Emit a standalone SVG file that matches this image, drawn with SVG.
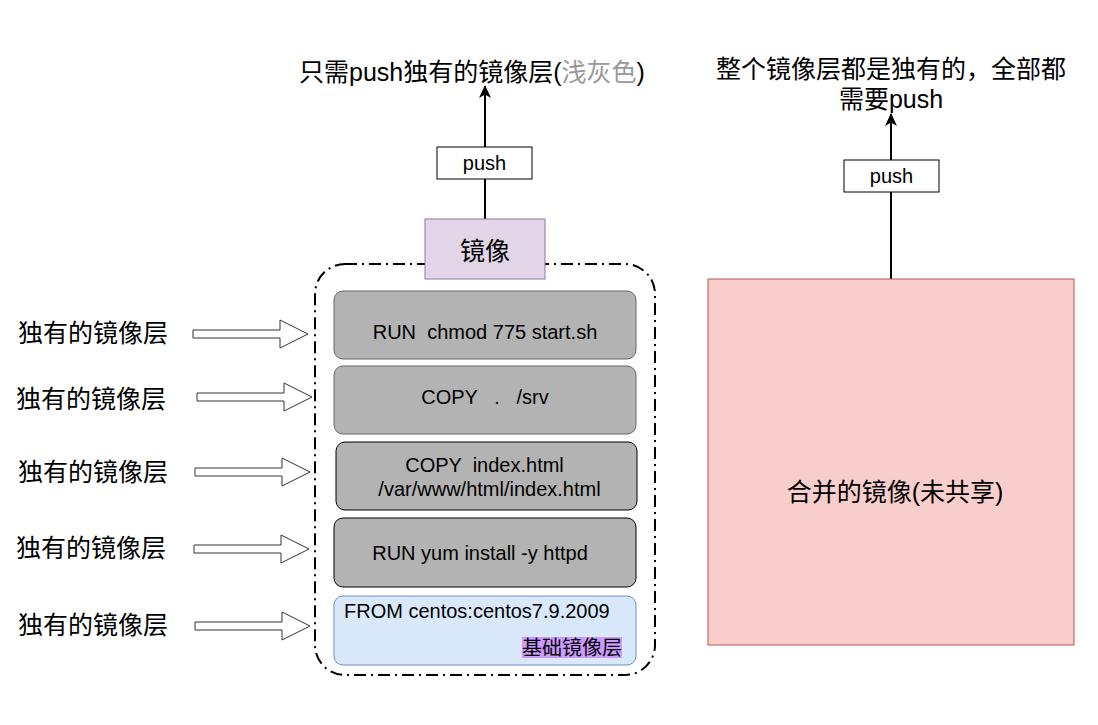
<svg xmlns="http://www.w3.org/2000/svg" xmlns:xlink="http://www.w3.org/1999/xlink" width="1098" height="725" viewBox="0 0 1098 725">
  <style>
    text { font-family: "Liberation Sans", "Noto Sans CJK SC", sans-serif; fill: #000; dominant-baseline: central; }
    .big { font-size: 25px; }
    .mid { font-size: 20px; }
    .c { text-anchor: middle; }
    .layer { fill: #b3b3b3; stroke: #666666; stroke-width: 1; }
    .layer-dark { fill: #b3b3b3; stroke: #000000; stroke-width: 1; }
    .conn { stroke: #000; stroke-width: 2; fill: none; }
    .box { fill: #fff; stroke: #000; stroke-width: 1; }
    .barrow { fill: #fff; stroke: #333; stroke-width: 1; }
  </style>
  <defs>
    <marker id="arrowHead" viewBox="0 0 13 12" refX="12" refY="6" markerWidth="13" markerHeight="12" markerUnits="userSpaceOnUse" orient="auto">
      <path d="M0,0 L13,6 L0,12 L3.5,6 Z" fill="#000"/>
    </marker>
    <path id="blockArrow" class="barrow" d="M0,-4 H87 V-14 L115,0 L87,14 V4 H0 Z"/>
  </defs>
  <rect width="1098" height="725" fill="#fff"/>

  <!-- container -->
  <g id="container">
    <rect x="315" y="264" width="340" height="411" rx="30" ry="30" fill="none" stroke="#000" stroke-width="2" stroke-dasharray="12 5 2 5"/>
  </g>

  <!-- connectors -->
  <g id="connectors">
    <line class="conn" x1="485" y1="219" x2="485" y2="86" marker-end="url(#arrowHead)"/>
    <line class="conn" x1="891" y1="279" x2="891" y2="114" marker-end="url(#arrowHead)"/>
    <use href="#blockArrow" x="193" y="334"/>
    <use href="#blockArrow" x="197" y="397"/>
    <use href="#blockArrow" x="195" y="472"/>
    <use href="#blockArrow" x="194" y="549"/>
    <use href="#blockArrow" x="195" y="626"/>
  </g>

  <g id="push-left">
    <rect class="box" x="437" y="147" width="95" height="32"/>
    <text class="mid c" x="484.5" y="163">push</text>
  </g>
  <g id="push-right">
    <rect class="box" x="844" y="160" width="95" height="32"/>
    <text class="mid c" x="891.5" y="176">push</text>
  </g>

  <g id="title-left">
    <text class="big c" x="472" y="72">只需push独有的镜像层(<tspan fill="#999999" style="fill:#999999">浅灰色</tspan>)</text>
  </g>
  <g id="title-right">
    <text class="big c" x="891" y="69">整个镜像层都是独有的，全部都</text>
    <text class="big c" x="891" y="99">需要push</text>
  </g>

  <g id="image-node">
    <rect x="425" y="219" width="120" height="60" fill="#e1d5e7" stroke="#9673a6" stroke-width="1"/>
    <text class="big c" x="485" y="251">镜像</text>
  </g>

  <g id="layer1">
    <rect class="layer" x="334" y="291" width="302" height="68" rx="9" ry="9"/>
    <text class="mid c" x="485" y="332" xml:space="preserve">RUN  chmod 775 start.sh</text>
  </g>
  <g id="layer2">
    <rect class="layer" x="334" y="366" width="302" height="68" rx="9" ry="9"/>
    <text class="mid c" x="485" y="397" xml:space="preserve">COPY   .   /srv</text>
  </g>
  <g id="layer3">
    <rect class="layer-dark" x="336" y="442" width="301" height="68" rx="9" ry="9"/>
    <text class="mid c" x="484.5" y="465" xml:space="preserve">COPY  index.html</text>
    <text class="mid c" x="489.5" y="489">/var/www/html/index.html</text>
  </g>
  <g id="layer4">
    <rect class="layer-dark" x="334" y="518" width="302" height="69" rx="9" ry="9"/>
    <text class="mid c" x="480" y="553">RUN yum install -y httpd</text>
  </g>
  <g id="layer5">
    <rect x="334" y="596" width="302" height="69" rx="9" ry="9" fill="#dae8fc" stroke="#6c8ebf" stroke-width="1"/>
    <text class="mid" x="344" y="611">FROM centos:centos7.9.2009</text>
    <rect x="522" y="637" width="100" height="21" fill="#cc99ff"/>
    <text class="mid" x="522" y="648">基础镜像层</text>
  </g>

  <g id="labels">
    <text class="big c" x="93" y="333">独有的镜像层</text>
    <text class="big c" x="91" y="399">独有的镜像层</text>
    <text class="big c" x="93" y="472">独有的镜像层</text>
    <text class="big c" x="91" y="548">独有的镜像层</text>
    <text class="big c" x="93" y="625">独有的镜像层</text>
  </g>

  <g id="merged-image">
    <rect x="708" y="279" width="366" height="366" fill="#f8cecc" stroke="#b85450" stroke-width="1"/>
    <text class="big c" x="895" y="492">合并的镜像(未共享)</text>
  </g>
</svg>
